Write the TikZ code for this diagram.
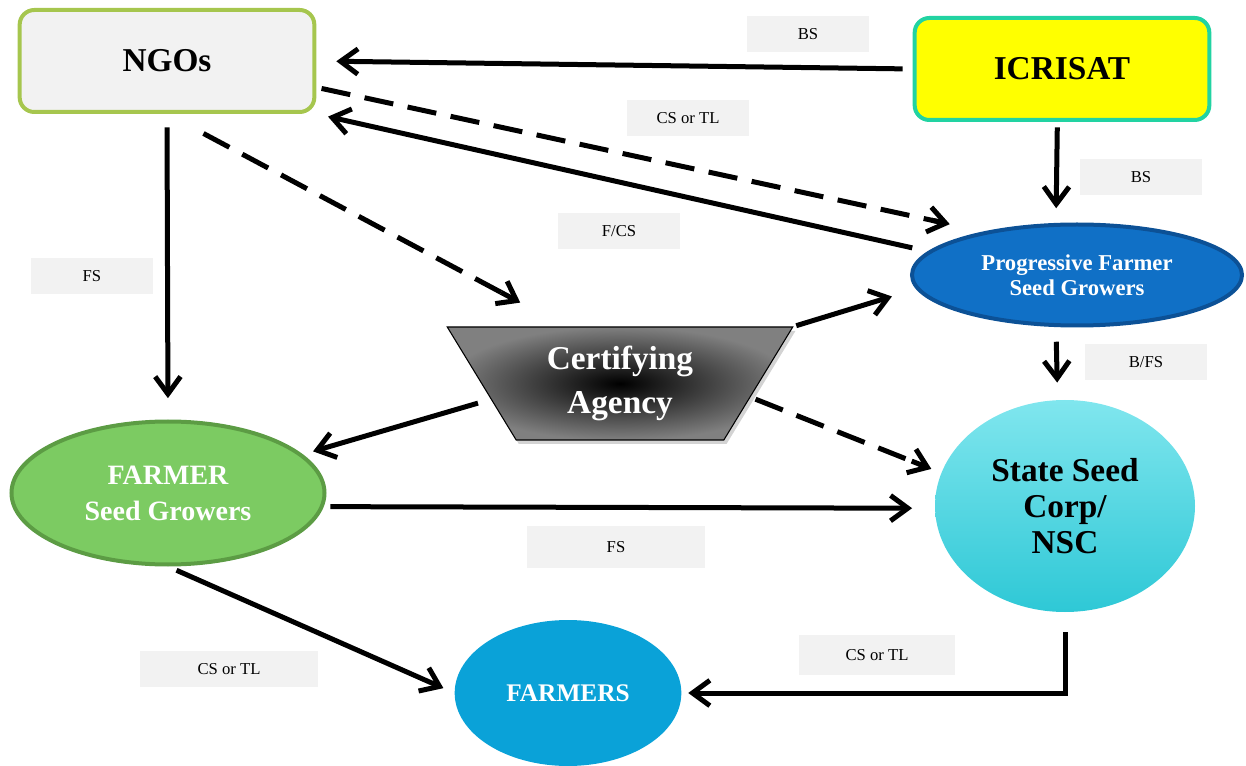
\documentclass[tikz,border=0pt]{standalone}
\usepackage{fontspec}
\setmainfont{Liberation Serif}
\usetikzlibrary{shapes.geometric,arrows.meta,shadows}
\definecolor{ngofill}{HTML}{F2F2F2}
\definecolor{ngoline}{HTML}{A6C64E}
\definecolor{icrfill}{HTML}{FFFF00}
\definecolor{icrline}{HTML}{22D3A2}
\definecolor{pfsfill}{HTML}{1070C6}
\definecolor{pfsline}{HTML}{0C5196}
\definecolor{fsgfill}{HTML}{7CCB62}
\definecolor{fsgline}{HTML}{5C9C44}
\definecolor{ssctop}{HTML}{80E6EE}
\definecolor{sscbot}{HTML}{2EC8D6}
\definecolor{frsfill}{HTML}{0AA2D8}
\definecolor{tagfill}{HTML}{F2F2F2}

\begin{document}
\begin{tikzpicture}[x=0.75pt,y=-0.75pt]
    \tikzstyle{box}=[draw,rounded corners=11pt,line width=3pt,minimum width=221pt,minimum height=76.5pt,font=\fontsize{25}{30}\selectfont\bfseries];
    \tikzstyle{oval}=[ellipse,draw,line width=3pt,text=white,align=center];
    \tikzstyle{tag}=[fill=tagfill,inner sep=0pt,minimum width=92pt,minimum height=27pt,font=\fontsize{12.5}{14}\selectfont];
    \tikzstyle{flow}=[line width=3.75pt,-{Straight Barb[length=13pt,width=19pt]}];
    \tikzstyle{flowd}=[line width=3.75pt,dash pattern=on 22pt off 11pt];

    \useasboundingbox (0,0) rectangle (1246,766);

    % boxes and ovals
    \node (ngo) [box,draw=ngoline,fill=ngofill] at (167,61) {NGOs};
    \node (icr) [box,draw=icrline,fill=icrfill] at (1062,69) {ICRISAT};
    \node (pfs) [oval,draw=pfsline,fill=pfsfill,minimum width=247.5pt,
    minimum height=75.75pt,font=\fontsize{17}{19}\selectfont\bfseries]
    at (1077,275) {Progressive Farmer\\Seed Growers};
    \node (cert) [trapezium,trapezium left angle=121.6,trapezium right
    angle=121.6,trapezium stretches=true,draw,line width=0.8pt,
    shading=radial,inner color=black,outer color=black!50,
    drop shadow={opacity=0.35,shadow xshift=2pt,shadow yshift=-3pt},
    minimum width=259.5pt,minimum height=84.75pt,text=white,
    align=center,font=\fontsize{25}{33}\selectfont\bfseries]
    at (620,383.5) {Certifying\\Agency};
    \node (fsg) [oval,draw=fsgline,fill=fsgfill,minimum width=234.75pt,
    minimum height=107.25pt,font=\fontsize{21}{27}\selectfont\bfseries]
    at (168,493) {FARMER\\Seed Growers};
    \node (ssc) [ellipse,top color=ssctop,bottom color=sscbot,
    minimum width=195pt,minimum height=159pt,align=center,
    font=\fontsize{25}{27}\selectfont\bfseries] at (1065,506)
    {State Seed\\Corp/\\NSC};
    \node (frs) [ellipse,fill=frsfill,text=white,minimum width=170pt,
    minimum height=109.5pt,font=\fontsize{19}{22}\selectfont\bfseries]
    at (568,693) {FARMERS};

    % seed class tags
    \node (t1) [tag] at (808,34) {BS};
    \node (t2) [tag] at (688,118) {CS or TL};
    \node (t3) [tag] at (1141,177) {BS};
    \node (t4) [tag] at (619,231) {F/CS};
    \node (t5) [tag] at (92,276) {FS};
    \node (t6) [tag] at (1146,362) {B/FS};
    \node (t7) [tag,minimum width=134pt,minimum height=31.5pt] at (616,547) {FS};
    \node (t8) [tag,minimum width=134pt] at (229,669) {CS or TL};
    \node (t9) [tag,minimum width=117pt,minimum height=30pt] at (877,655) {CS or TL};

    \path (icr.west) edge[flow,shorten <=7.5pt,shorten >=15pt] (ngo.east)
    (pfs.171) edge[flow,shorten <=12pt,shorten >=9pt] (ngo.south east)
    (ngo.south) edge[flow,shorten <=10pt,shorten >=16pt] (fsg.north)
    (icr.-95) edge[flow,shorten <=4pt,shorten >=11pt] (pfs.112)
    (cert.top right corner) edge[flow,shorten <=2pt,shorten >=19pt] (pfs.185)
    (pfs.-112) edge[flow,shorten <=11pt,shorten >=13pt] (ssc.94)
    (cert.187) edge[flow,shorten <=10pt,shorten >=8pt] (fsg.16)
    (fsg.-5) edge[flow,shorten <=5pt,shorten >=17pt] (ssc.181)
    (fsg.south) edge[flow,shorten <=7pt,shorten >=9pt] (frs.west);
    \draw[flow,shorten <=15pt,shorten >=5pt] (ssc.south) |- (frs.east);

    % dashed links, solid heads
    \path (ngo.-10) edge[flowd,shorten <=4pt,shorten >=30pt] (pfs.155)
    edge[flow,shorten <=472pt,shorten >=26pt] (pfs.155)
    (ngo.south) edge[flowd,shorten <=31pt,shorten >=42pt] (cert.134)
    edge[flow,shorten <=284pt,shorten >=38pt] (cert.134)
    (cert.-6) edge[flowd,shorten <=4pt,shorten >=12pt] (ssc.165)
    edge[flow,shorten <=130pt,shorten >=8pt] (ssc.165);
\end{tikzpicture}
\end{document}
